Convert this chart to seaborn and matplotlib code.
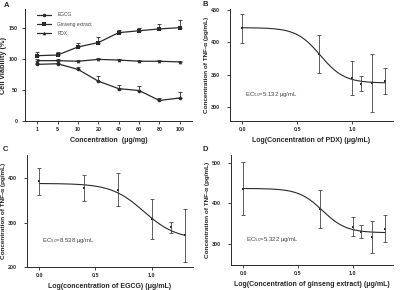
import numpy as np
import pandas as pd
import matplotlib
matplotlib.use("Agg")
import matplotlib.pyplot as plt
import seaborn as sns

sns.set_style("ticks")
plt.rcParams['font.family'] = ['Liberation Sans', 'DejaVu Sans']

# Panel A data
conc_labels = ["1", "5", "10", "20", "40", "60", "80", "100"]
ginseng_a = [105, 106, 119, 126, 142, 145, 148, 150]
ginseng_a_err = [6, 5, 6, 9, 5, 5, 8, 12]
pdx_a = [97, 97, 96, 99, 98, 96, 96, 95]
pdx_a_err = [2, 2, 2, 2, 2, 2, 2, 2]
egcg_a = [91, 92, 83, 64, 52, 49, 33, 37]
egcg_a_err = [3, 2, 4, 9, 6, 7, 4, 9]

# Panel B (PDX)
b_x = [0.0, 0.699, 1.0, 1.079, 1.176, 1.301]
b_y = [422, 382, 345, 336, 337, 340]
b_err = [23, 29, 26, 12, 45, 20]
b_fit = dict(top=423, bottom=337, logec50=np.log10(5.132), hill=4.0)

# Panel C (EGCG)
c_x = [0.0, 0.398, 0.699, 1.0, 1.176, 1.301]
c_y = [393, 377, 374, 309, 289, 271]
c_err = [30, 29, 37, 45, 12, 60]
c_fit = dict(top=388, bottom=262, logec50=np.log10(8.538), hill=3.0)

# Panel D (ginseng extract)
d_x = [0.0, 0.699, 1.0, 1.079, 1.176, 1.301]
d_y = [436, 386, 342, 330, 316, 337]
d_err = [66, 46, 24, 16, 40, 33]
d_fit = dict(top=437, bottom=327, logec50=np.log10(5.322), hill=4.0)

fig = plt.figure(figsize=(4.0, 2.9), dpi=100)
W, H = 400, 290
def add_ax(l, t, r, b):
    return fig.add_axes([l / W, 1 - b / H, (r - l) / W, (b - t) / H])

axA = add_ax(25, 9, 192, 121)
axB = add_ax(230, 9, 393, 121)
axC = add_ax(27, 155, 193, 267)
axD = add_ax(231, 155, 393, 265)

FS_TICK = 3.9
col = "#2a2a2a"

def style(ax, ypad):
    sns.despine(ax=ax)
    for s in ax.spines.values():
        s.set_linewidth(0.7)
        s.set_color(col)
    ax.tick_params(labelsize=FS_TICK, width=0.6, length=2.2, colors=col)
    ax.tick_params(axis="y", pad=ypad)
    ax.tick_params(axis="x", pad=2)
    for t in ax.get_xticklabels() + ax.get_yticklabels():
        t.set_fontweight("bold")

# Panel A
xs = np.arange(len(conc_labels))
series = [("EGCG", egcg_a, egcg_a_err, "o"),
          ("Ginseng extract", ginseng_a, ginseng_a_err, "s"),
          ("PDX", pdx_a, pdx_a_err, "^")]
for name, vals, errs, mk in series:
    df = pd.DataFrame({"x": xs, "y": vals})
    sns.lineplot(data=df, x="x", y="y", ax=axA, color=col, lw=0.9,
                 marker=mk, markersize=2.6, markeredgewidth=0, label=name)
    axA.errorbar(xs, vals, yerr=[np.zeros(len(errs)), errs], fmt="none",
                 ecolor=col, elinewidth=0.6, capsize=1.2, capthick=0.6)
axA.set_xticks(xs)
axA.set_xticklabels(conc_labels)
axA.set_xlim(-0.6, 7.6)
axA.set_ylim(0, 180)
axA.set_yticks([0, 50, 100, 150])
axA.set_xlabel("Concentration  (μg/mg)", fontsize=5.0, fontweight="bold", labelpad=4)
axA.set_ylabel("Cell viability (%)", fontsize=5.3, fontweight="bold", labelpad=1.5)
leg = axA.legend(loc="upper left", bbox_to_anchor=(0.05, 1.0), fontsize=3.5,
                 frameon=False, handlelength=3.0, labelspacing=0.9, borderaxespad=0.3,
                 handletextpad=1.2)
for t in leg.get_texts():
    t.set_color("#444444")
style(axA, 3)

def dose_panel(ax, x, y, err, fit, ylim, yticks, xlabel, ec_text):
    xf = np.linspace(0, 1.301, 200)
    yf = fit["bottom"] + (fit["top"] - fit["bottom"]) / (1 + 10 ** ((xf - fit["logec50"]) * fit["hill"]))
    sns.lineplot(x=xf, y=yf, ax=ax, color=col, lw=0.8)
    sns.scatterplot(x=x, y=y, ax=ax, color=col, marker="s", s=4, linewidth=0)
    ax.errorbar(x, y, yerr=err, fmt="none", ecolor="#444444", elinewidth=0.6,
                capsize=1.2, capthick=0.6)
    ax.set_xlim(-0.11, 1.37)
    ax.set_xticks([0.0, 0.5, 1.0])
    ax.set_xticklabels(["0.0", "0.5", "1.0"])
    ax.set_ylim(*ylim)
    ax.set_yticks(yticks)
    ax.set_xlabel(xlabel, fontsize=5.0, fontweight="bold", labelpad=3.5)
    ax.set_ylabel("Concentration of TNF-α (pg/mL)", fontsize=4.6, fontweight="bold", labelpad=1.2)
    ax.text(0.09, 0.22, ec_text, transform=ax.transAxes, fontsize=4.3, color="#444444")
    style(ax, 5)

dose_panel(axB, b_x, b_y, b_err, b_fit, (278, 452), [300, 350, 400, 450],
           "Log(Concentration of PDX) (μg/mL)", "EC$_{50}$=5.132 μg/mL")
dose_panel(axC, c_x, c_y, c_err, c_fit, (200, 452), [200, 300, 400],
           "Log(concentration of EGCG) (μg/mL)", "EC$_{50}$=8.538 μg/mL")
dose_panel(axD, d_x, d_y, d_err, d_fit, (247, 520), [300, 400, 500],
           "Log(Concentration of ginseng extract) (μg/mL)", "EC$_{50}$=5.322 μg/mL")

for lab, (px, py) in zip("ABCD", [(4, 2), (203, 1), (3, 146), (203, 146)]):
    fig.text(px / W, 1 - py / H, lab, fontsize=5.5, fontweight="bold", va="top", ha="left")

fig.savefig("out.png", dpi=100)
